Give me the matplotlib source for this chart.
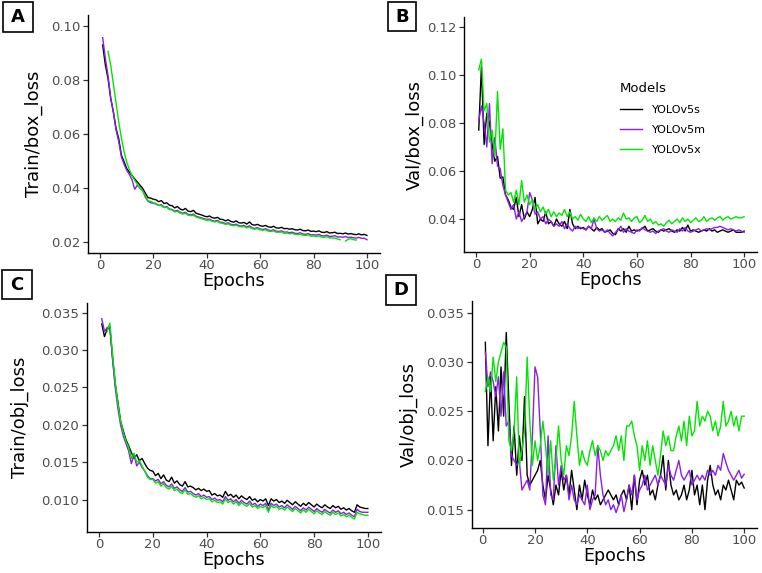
import matplotlib.pyplot as plt
from matplotlib.patches import Rectangle
import numpy as np

nan = np.nan
epochs = list(range(1, 101))
models = ["YOLOv5s", "YOLOv5m", "YOLOv5x"]
colors = ["#000000", "#8A1EE8", "#00E600"]

# A: train box loss
train_box_s = [
    .0929, .0855, .0805, .0731, .0682, .0620, .0583, .0522, .0497, .0472,
    .0458, .0446, .0433, .0422, .0410, .0398, .0380, .0364, .0362, .0358,
    .0356, .0349, .0353, .0342, .0345, .0336, .0334, .0326, .0331, .0322,
    .0318, .0324, .0314, .0312, .0317, .0306, .0303, .0300, .0296, .0293,
    .0296, .0290, .0288, .0291, .0284, .0283, .0278, .0282, .0276, .0273,
    .0278, .0271, .0270, .0272, .0266, .0274, .0264, .0262, .0265, .0260,
    .0258, .0261, .0256, .0254, .0258, .0252, .0251, .0254, .0249, .0250,
    .0247, .0249, .0245, .0244, .0247, .0242, .0241, .0244, .0239, .0240,
    .0238, .0241, .0236, .0235, .0238, .0233, .0234, .0236, .0231, .0232,
    .0230, .0233, .0229, .0231, .0228, .0227, .0230, .0226, .0228, .0224]
train_box_m = [
    .0956, .0880, .0815, .0735, .0680, .0615, .0572, .0515, .0488, .0465,
    .0450, .0430, .0395, .0410, .0398, .0390, .0365, .0350, .0345, .0343,
    .0340, .0335, .0338, .0328, .0331, .0322, .0320, .0314, .0317, .0310,
    .0306, .0310, .0302, .0300, .0303, .0295, .0292, .0289, .0286, .0283,
    .0285, .0279, .0277, .0280, .0273, .0272, .0268, .0271, .0265, .0263,
    .0266, .0260, .0259, .0261, .0255, .0260, .0252, .0250, .0253, .0248,
    .0246, .0249, .0244, .0242, .0245, .0240, .0239, .0241, .0236, .0237,
    .0234, .0236, .0232, .0231, .0234, .0229, .0228, .0231, .0226, .0227,
    .0225, .0228, .0223, .0222, .0225, .0220, .0221, .0223, .0218, .0219,
    .0217, .0220, .0216, .0218, .0215, .0214, .0217, .0213, .0214, .0208]
train_box_x = [
    nan, nan, .0905, .0855, .0785, .0715, .0645, .0585, .0535, .0495,
    .0468, .0445, .0428, .0412, .0400, .0388, .0370, .0352, .0350, .0345,
    .0342, .0336, .0334, .0327, .0328, .0320, .0318, .0311, .0313, .0307,
    .0303, .0306, .0299, .0297, .0299, .0292, .0289, .0286, .0283, .0280,
    .0281, .0276, .0274, .0276, .0270, .0269, .0265, .0267, .0262, .0260,
    .0262, .0257, .0256, .0257, .0252, .0255, .0249, .0247, .0249, .0245,
    .0243, .0245, .0240, .0239, .0241, .0236, .0236, .0237, .0232, .0233,
    .0230, .0232, .0228, .0227, .0229, .0225, .0224, .0226, .0221, .0222,
    .0220, .0222, .0218, .0217, .0219, .0215, .0215, .0214, .0211, .0208,
    nan, .0203, .0210, .0212, .0208, .0207, nan, nan, nan, nan]

# B: val box loss
val_box_s = [
    .0770, .1035, .0710, .0840, .0800, .0710, .0640, .0660, .0570, .0575,
    .0500, .0480, .0450, .0440, .0490, .0410, .0460, .0400, .0430, .0410,
    .0440, .0490, .0380, .0400, .0390, .0430, .0380, .0390, .0370, .0400,
    .0380, .0370, .0390, .0360, .0440, .0380, .0360, .0370, .0360, .0365,
    .0355, .0370, .0360, .0350, .0365, .0355, .0360, .0345, .0350, .0355,
    .0340, .0335, .0360, .0350, .0360, .0345, .0370, .0350, .0355, .0350,
    .0355, .0360, .0370, .0350, .0355, .0360, .0350, .0345, .0355, .0350,
    .0355, .0360, .0350, .0345, .0355, .0350, .0365, .0350, .0375, .0350,
    .0355, .0350, .0345, .0350, .0355, .0350, .0360, .0350, .0355, .0345,
    .0350, .0355, .0350, .0345, .0350, .0355, .0345, .0345, .0345, .0350]
val_box_m = [
    .0810, .0870, .0800, .0700, .0880, .0630, .0740, .0620, .0610, .0540,
    .0500, .0470, .0440, .0460, .0400, .0430, .0390, .0410, .0430, .0510,
    .0480, .0420, .0430, .0400, .0410, .0380, .0400, .0390, .0370, .0380,
    .0370, .0390, .0360, .0380, .0360, .0350, .0370, .0360, .0365, .0360,
    .0355, .0370, .0360, .0400, .0360, .0350, .0355, .0345, .0355, .0340,
    .0330, .0345, .0355, .0370, .0345, .0360, .0350, .0345, .0340, .0355,
    .0350, .0365, .0355, .0350, .0345, .0350, .0340, .0350, .0355, .0360,
    .0350, .0345, .0355, .0350, .0345, .0360, .0350, .0365, .0350, .0345,
    .0350, .0355, .0360, .0350, .0355, .0360, .0355, .0360, .0365, .0365,
    .0370, .0365, .0360, .0355, .0360, .0355, .0350, .0355, .0350, .0345]
val_box_x = [
    .1020, .1065, .0850, .0880, .0720, .0770, .0660, .0930, .0690, .0775,
    .0520, .0500, .0510, .0470, .0520, .0460, .0560, .0470, .0500, .0460,
    .0480, .0440, .0460, .0430, .0450, .0420, .0440, .0410, .0430, .0410,
    .0425, .0415, .0440, .0410, .0430, .0400, .0410, .0395, .0420, .0400,
    .0390, .0410, .0385, .0405, .0390, .0410, .0395, .0405, .0415, .0390,
    .0400, .0390, .0405, .0395, .0425, .0400, .0405, .0390, .0405, .0410,
    .0385, .0395, .0415, .0390, .0400, .0380, .0390, .0375, .0380, .0370,
    .0385, .0395, .0380, .0390, .0400, .0385, .0405, .0390, .0400, .0385,
    .0395, .0405, .0390, .0395, .0410, .0390, .0400, .0405, .0395, .0405,
    .0410, .0395, .0405, .0410, .0400, .0405, .0410, .0405, .0405, .0410]

# C: train obj loss
train_obj_s = [
    .0335, .0318, .0328, .0330, .0290, .0255, .0230, .0205, .0192, .0180,
    .0172, .0163, .0155, .0160, .0152, .0155, .0148, .0142, .0139, .0138,
    .0132, .0135, .0128, .0133, .0126, .0124, .0130, .0122, .0125, .0120,
    .0118, .0124, .0117, .0118, .0116, .0113, .0115, .0112, .0114, .0111,
    .0112, .0106, .0108, .0105, .0106, .0103, .0111, .0105, .0107, .0103,
    .0106, .0101, .0105, .0102, .0100, .0104, .0099, .0101, .0097, .0100,
    .0098, .0101, .0092, .0101, .0098, .0100, .0096, .0098, .0095, .0099,
    .0096, .0093, .0097, .0094, .0091, .0095, .0092, .0096, .0093, .0090,
    .0094, .0091, .0089, .0093, .0090, .0088, .0092, .0089, .0091, .0087,
    .0089, .0086, .0088, .0085, .0083, .0093, .0090, .0089, .0088, .0088]
train_obj_m = [
    .0342, .0325, .0330, .0332, .0288, .0250, .0222, .0200, .0185, .0175,
    .0165, .0148, .0160, .0145, .0150, .0143, .0138, .0132, .0128, .0128,
    .0125, .0127, .0121, .0124, .0119, .0117, .0121, .0115, .0117, .0113,
    .0111, .0116, .0110, .0111, .0108, .0106, .0108, .0104, .0106, .0103,
    .0104, .0100, .0102, .0099, .0100, .0097, .0104, .0099, .0101, .0097,
    .0100, .0095, .0099, .0096, .0094, .0098, .0093, .0095, .0091, .0094,
    .0092, .0095, .0086, .0095, .0092, .0094, .0090, .0092, .0089, .0093,
    .0090, .0087, .0091, .0088, .0085, .0089, .0086, .0090, .0087, .0084,
    .0088, .0085, .0083, .0087, .0084, .0082, .0086, .0083, .0085, .0081,
    .0083, .0080, .0082, .0079, .0077, .0087, .0084, .0083, .0083, .0083]
train_obj_x = [
    nan, nan, .0325, .0336, .0295, .0258, .0228, .0205, .0190, .0178,
    .0170, .0155, .0162, .0150, .0152, .0145, .0138, .0130, .0127, .0127,
    .0122, .0124, .0118, .0121, .0116, .0114, .0118, .0112, .0114, .0110,
    .0108, .0113, .0107, .0108, .0105, .0103, .0105, .0101, .0103, .0100,
    .0101, .0097, .0099, .0096, .0097, .0094, .0101, .0096, .0098, .0094,
    .0097, .0092, .0096, .0093, .0091, .0095, .0090, .0092, .0088, .0091,
    .0089, .0092, .0083, .0092, .0089, .0091, .0087, .0089, .0086, .0090,
    .0087, .0084, .0088, .0085, .0082, .0086, .0083, .0087, .0084, .0081,
    .0085, .0082, .0080, .0084, .0081, .0079, .0083, .0080, .0082, .0078,
    .0080, .0077, .0079, .0076, .0074, .0083, .0081, .0080, .0079, .0079]

# D: val obj loss
val_obj_s = [
    .0320, .0215, .0285, .0220, .0275, .0230, .0295, .0245, .0330, .0260,
    .0195, .0235, .0185, .0225, .0200, .0265, .0185, .0175, .0180, .0185,
    .0190, .0200, .0175, .0160, .0185, .0170, .0155, .0175, .0165, .0190,
    .0170, .0185, .0165, .0190, .0170, .0150, .0175, .0160, .0180, .0165,
    .0155, .0170, .0160, .0165, .0155, .0160, .0165, .0170, .0165, .0160,
    .0165, .0155, .0165, .0170, .0160, .0175, .0150, .0185, .0155, .0180,
    .0190, .0175, .0185, .0165, .0170, .0160, .0175, .0185, .0205, .0170,
    .0200, .0175, .0165, .0170, .0160, .0165, .0175, .0160, .0170, .0190,
    .0165, .0175, .0155, .0175, .0150, .0180, .0195, .0175, .0165, .0170,
    .0160, .0175, .0170, .0180, .0170, .0160, .0180, .0175, .0178, .0172]
val_obj_m = [
    .0310, .0275, .0290, .0280, .0265, .0285, .0245, .0290, .0235, .0240,
    .0205, .0200, .0195, .0200, .0170, .0175, .0180, .0170, .0225, .0295,
    .0285, .0230, .0165, .0155, .0225, .0165, .0160, .0215, .0175, .0195,
    .0180, .0185, .0160, .0175, .0160, .0155, .0165, .0160, .0155, .0175,
    .0150, .0160, .0165, .0215, .0185, .0165, .0155, .0160, .0150, .0155,
    .0147, .0155, .0165, .0148, .0160, .0175, .0165, .0185, .0160, .0170,
    .0175, .0185, .0170, .0175, .0180, .0185, .0175, .0185, .0180, .0175,
    .0195, .0185, .0180, .0190, .0200, .0185, .0180, .0185, .0190, .0175,
    .0180, .0185, .0180, .0185, .0180, .0190, .0185, .0190, .0185, .0195,
    .0190, .0207, .0198, .0190, .0185, .0180, .0185, .0190, .0182, .0186]
val_obj_x = [
    .0270, .0285, .0270, .0305, .0280, .0300, .0310, .0320, .0315, .0220,
    .0210, .0230, .0285, .0195, .0210, .0230, .0305, .0240, .0195, .0220,
    .0200, .0215, .0240, .0215, .0185, .0220, .0180, .0200, .0235, .0200,
    .0185, .0215, .0205, .0225, .0260, .0225, .0195, .0210, .0200, .0195,
    .0210, .0220, .0205, .0215, .0210, .0200, .0210, .0205, .0210, .0215,
    .0225, .0210, .0225, .0200, .0235, .0235, .0240, .0225, .0215, .0190,
    .0215, .0200, .0220, .0195, .0215, .0200, .0185, .0205, .0230, .0215,
    .0225, .0210, .0210, .0225, .0235, .0220, .0240, .0215, .0245, .0225,
    .0230, .0260, .0235, .0245, .0240, .0250, .0245, .0230, .0240, .0225,
    .0235, .0260, .0235, .0240, .0250, .0235, .0245, .0230, .0245, .0245]

W, H = 762, 573
plt.rcParams["font.family"] = ["DejaVu Sans"]

fig = plt.figure(figsize=(W / 100, H / 100), dpi=100)


def px_axes(left, top, right, bottom):
    # pixel box (from top-left) -> figure fraction
    return fig.add_axes([left / W, 1 - bottom / H, (right - left) / W, (bottom - top) / H])


def style(ax, ylabel, xlim, ylim, yticks, fmt, label_x):
    for side in ["top", "right"]:
        ax.spines[side].set_visible(False)
    for side in ["left", "bottom"]:
        ax.spines[side].set_linewidth(1.0)
    ax.set_xlim(*xlim)
    ax.set_ylim(*ylim)
    ax.set_xticks([0, 20, 40, 60, 80, 100])
    ax.set_yticks(yticks)
    ax.set_yticklabels([fmt % v for v in yticks])
    ax.tick_params(length=3.5, width=0.9, color="#333333", labelcolor="#4D4D4D",
                   labelsize=9.5, pad=2)
    ax.tick_params(axis="x", pad=0.5)
    ax.set_xlabel("Epochs", fontsize=12.5, labelpad=0.5)
    ax.set_ylabel(ylabel, fontsize=13)
    pos = ax.get_position()
    ax.yaxis.set_label_coords(label_x, pos.y0 + pos.height / 2, transform=fig.transFigure)


def draw(ax, series):
    for vals, c, name in zip(series, colors, models):
        ax.plot(epochs, vals, color=c, lw=1.0, label=name)


axA = px_axes(88, 15, 380, 253)
draw(axA, [train_box_s, train_box_m, train_box_x])
style(axA, "Train/box_loss", (-4.5, 104.9), (0.0159, 0.104),
      [0.02, 0.04, 0.06, 0.08, 0.10], "%.2f", 43 / W)

axB = px_axes(464, 17, 757, 252)
draw(axB, [val_box_s, val_box_m, val_box_x])
style(axB, "Val/box_loss", (-4.5, 104.8), (0.0263, 0.124),
      [0.04, 0.06, 0.08, 0.10, 0.12], "%.2f", 424 / W)

axC = px_axes(87, 303, 381, 532)
draw(axC, [train_obj_s, train_obj_m, train_obj_x])
style(axC, "Train/obj_loss", (-4.5, 104.9), (0.00566, 0.0363),
      [0.010, 0.015, 0.020, 0.025, 0.030, 0.035], "%.3f", 29 / W)

axD = px_axes(472, 301, 757, 528)
draw(axD, [val_obj_s, val_obj_m, val_obj_x])
style(axD, "Val/obj_loss", (-4.1, 104.9), (0.01314, 0.0362),
      [0.015, 0.020, 0.025, 0.030, 0.035], "%.3f", 418 / W)

leg = axB.legend(title="Models", loc="upper left", frameon=False,
                 bbox_to_anchor=(610 / W, 1 - 72 / H), bbox_transform=fig.transFigure,
                 fontsize=8, title_fontsize=9.5, handlelength=2.0,
                 handletextpad=0.9, labelspacing=0.9, alignment="left")

# panel letters in boxes
for letter, (x0, y0, x1, y1) in zip("ABCD", [(3, 2, 33, 32), (388, 2, 416, 31),
                                            (2, 270, 32, 299), (386, 275, 416, 305)]):
    fig.patches.append(Rectangle((x0 / W, 1 - y1 / H), (x1 - x0) / W, (y1 - y0) / H,
                                 transform=fig.transFigure, fill=False,
                                 edgecolor="black", lw=1.2))
    fig.text((x0 + x1) / 2 / W, 1 - (y0 + y1) / 2 / H, letter, ha="center", va="center",
             fontsize=13, fontweight="bold")

fig.savefig("out.png", dpi=100)
